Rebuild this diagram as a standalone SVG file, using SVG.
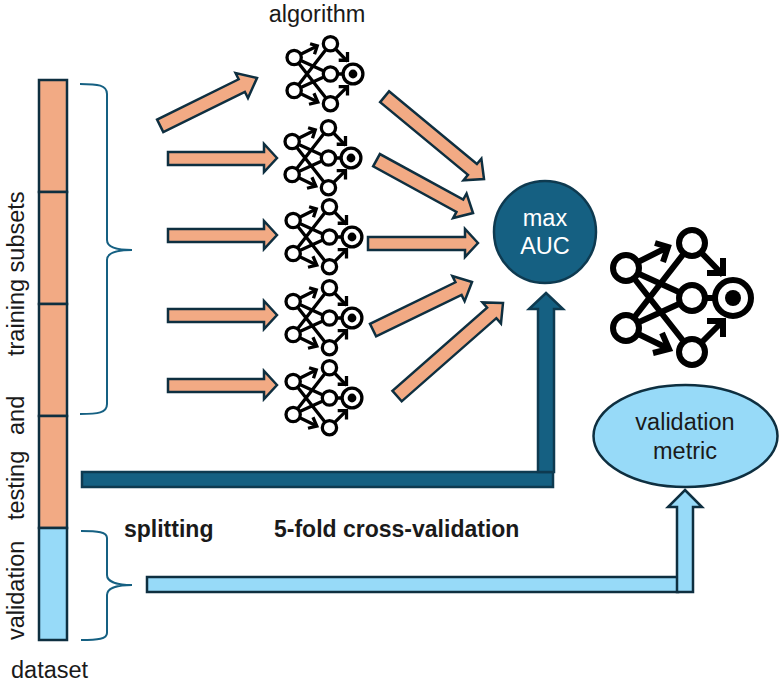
<svg xmlns="http://www.w3.org/2000/svg" width="783" height="685" viewBox="0 0 783 685">
<style>
text{font-family:"Liberation Sans",Arial,sans-serif;font-size:23.500px;fill:#1a1a1a}
.b{font-weight:700;font-size:23px}
.m{text-anchor:middle}
.o{fill:#F2AA84;stroke:#0E2F40;stroke-width:2.5;stroke-linejoin:miter}
.l{fill:#97DAF8;stroke:#0E2F40;stroke-width:2.5}
.d{fill:#156082;stroke:#0E3A50;stroke-width:2.5}
.br{fill:none;stroke:#156082;stroke-width:2}
.n{fill:#fff;stroke:#000;stroke-width:6}
.w{fill:none;stroke:#000;stroke-width:6}
</style>
<defs>
<g id="net">
<path class="w" d="M-107-30L-41 0M-107-30L-41 54M-107 30L-41 0M-107 30L-41-55M-107-30L-65-51M-107 30L-64 51M-41 0H-15M-41-55L-10-23M-41 54L-10 23"/>
<path class="w" d="M-78-55L-65-51L-70-36M-80 55L-64 51L-71 35M-26-25H-10V-40M-26 23H-10V39"/>
<circle class="n" cx="-107" cy="-30" r="13"/>
<circle class="n" cx="-107" cy="30" r="13"/>
<circle class="n" cx="-41" cy="-55" r="13"/>
<circle class="n" cx="-41" cy="0" r="13"/>
<circle class="n" cx="-41" cy="54" r="13"/>
<circle class="n" cx="0" cy="0" r="18"/>
<circle cx="0" cy="0" r="8" fill="#000"/>
</g>
</defs>
<g id="dataset-bar">
<rect class="o" x="39" y="80" width="28" height="112"/>
<rect class="o" x="39" y="192" width="28" height="112"/>
<rect class="o" x="39" y="304" width="28" height="112"/>
<rect class="o" x="39" y="416" width="28" height="112"/>
<rect class="l" x="39" y="528" width="28" height="112"/>
</g>
<g id="braces">
<path class="br" d="M80 84C98 84 107 85 107 94V240C107 248 118 250 132 250C118 250 107 252 107 260V404C107 413 98 414 80 414"/>
<path class="br" d="M81 531C98 531 107 532 107 538V575C107 582 118 585 132 585C118 585 107 588 107 595V633C107 639 98 640 81 640"/>
</g>
<g id="connectors">
<polygon class="o" transform="translate(257,78) rotate(-26.3)" points="0,0 -17,-14 -17,-7 -108,-7 -108,7 -17,7 -17,14"/>
<polygon class="o" transform="translate(277,158)" points="0,0 -13,-14 -13,-6 -109,-6 -109,7 -13,7 -13,14"/>
<polygon class="o" transform="translate(277,235)" points="0,0 -13,-14 -13,-6 -109,-6 -109,7 -13,7 -13,14"/>
<polygon class="o" transform="translate(277,315)" points="0,0 -13,-14 -13,-6 -109,-6 -109,7 -13,7 -13,14"/>
<polygon class="o" transform="translate(277,385)" points="0,0 -13,-14 -13,-6 -109,-6 -109,7 -13,7 -13,14"/>
<polygon class="o" transform="translate(484,179) rotate(39.6)" points="0,0 -15,-14 -15,-7 -129,-7 -129,7 -15,7 -15,14"/>
<polygon class="o" transform="translate(473,213) rotate(28.7)" points="0,0 -15,-14 -15,-7 -110,-7 -110,7 -15,7 -15,14"/>
<polygon class="o" transform="translate(478,243)" points="0,0 -13,-14 -13,-6 -110,-6 -110,7 -13,7 -13,14"/>
<polygon class="o" transform="translate(472,282) rotate(-25.9)" points="0,0 -15,-14 -15,-7 -110,-7 -110,7 -15,7 -15,14"/>
<polygon class="o" transform="translate(503,303) rotate(-41.3)" points="0,0 -15,-14 -15,-7 -141,-7 -141,7 -15,7 -15,14"/>
<rect class="d" x="82" y="472" width="471" height="15"/>
<polygon class="d" points="546,293 563,309 554,309 554,472 538,472 538,309 529,309"/>
<rect class="l" x="147" y="577" width="531" height="15"/>
<polygon class="l" points="685,490 702,507 693,507 693,592 677,592 677,507 668,507"/>
</g>
<g id="net1"><use href="#net" transform="translate(353,74) scale(.55)"/></g>
<g id="net2"><use href="#net" transform="translate(351,158) scale(.55)"/></g>
<g id="net3"><use href="#net" transform="translate(352,237) scale(.55)"/></g>
<g id="net4"><use href="#net" transform="translate(352,318) scale(.55)"/></g>
<g id="net5"><use href="#net" transform="translate(352,398) scale(.55)"/></g>
<g id="net-final"><use href="#net" transform="translate(733,298)"/></g>
<g id="max-auc">
<circle class="d" cx="545" cy="232" r="51"/>
<text class="m" x="545" y="226" style="fill:#fff">max</text>
<text class="m" x="545" y="254" style="fill:#fff">AUC</text>
</g>
<g id="validation-metric">
<ellipse class="l" cx="685.500" cy="436" rx="92" ry="51"/>
<text class="m" x="685" y="430">validation</text>
<text class="m" x="685" y="459">metric</text>
</g>
<g id="labels">
<text class="m" x="317" y="22">algorithm</text>
<text x="11" y="678">dataset</text>
<text class="b" x="124" y="537">splitting</text>
<text class="b" x="274" y="537">5-fold cross-validation</text>
<text transform="translate(24,640) rotate(-90)">validation</text>
<text transform="translate(24,520) rotate(-90)">testing</text>
<text transform="translate(24,435) rotate(-90)">and</text>
<text transform="translate(24,356) rotate(-90)">training subsets</text>
</g>
</svg>
